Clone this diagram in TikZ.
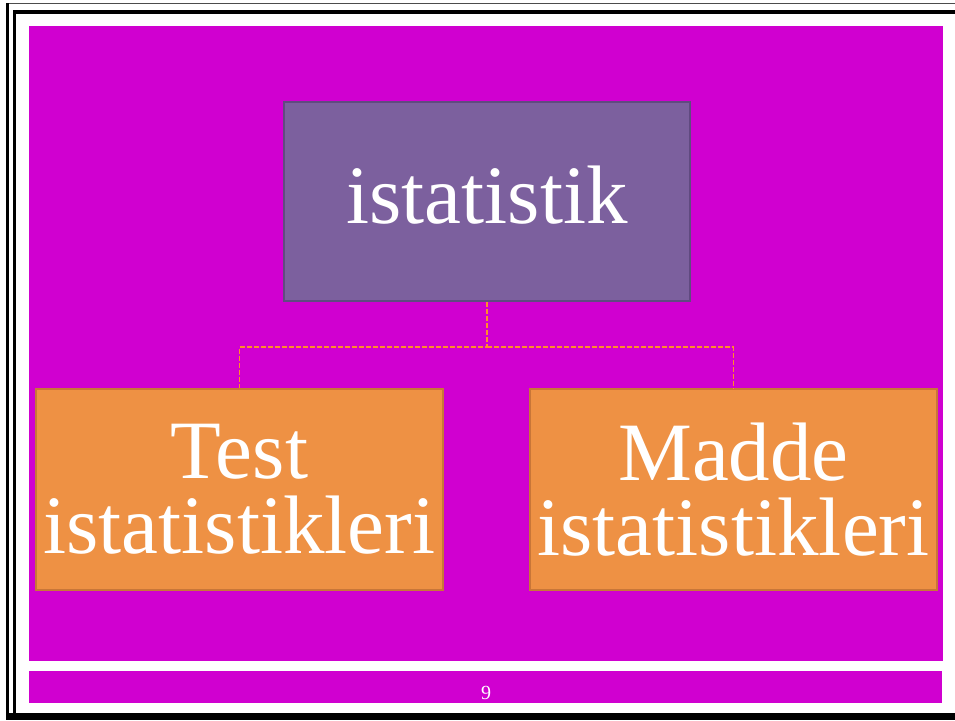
\documentclass[tikz,border=0pt]{standalone}
\usepackage{fontspec}
\setmainfont{Liberation Serif}
\definecolor{slidebg}{RGB}{208,0,208}
\definecolor{purplefill}{RGB}{124,96,158}
\definecolor{purpleedge}{RGB}{96,74,128}
\definecolor{orangefill}{RGB}{238,145,68}
\definecolor{orangeedge}{RGB}{200,118,56}
\definecolor{linkcol}{RGB}{255,140,40}
\tikzset{
  topbox/.style={draw=purpleedge, line width=2pt, fill=purplefill, minimum width=406pt, minimum height=199pt, inner sep=0pt, text=white, font=\fontsize{83}{75}\selectfont, text depth=14pt},
  childbox/.style={draw=orangeedge, line width=2pt, fill=orangefill, minimum width=407pt, minimum height=201pt, inner sep=0pt, text=white, align=center, font=\fontsize{83}{75}\selectfont},
  link/.style={draw=linkcol, line width=1.3pt, dash pattern=on 5pt off 2pt},
  frameline/.style={draw=black},
}
\begin{document}
\begin{tikzpicture}[x=1pt,y=-1pt]
\useasboundingbox (0,0) rectangle (955,720);
\fill[white] (0,0) rectangle (955,720);
% frame lines
\draw[frameline, line width=1.5pt, draw=black!70] (6,3.5) -- (955,3.5);
\draw[frameline, line width=3pt] (7.5,3) -- (7.5,720);
\draw[frameline, line width=4pt] (13,12) -- (955,12);
\draw[frameline, line width=3pt] (14.5,10) -- (14.5,716);
\draw[frameline, line width=7pt] (6,716.5) -- (955,716.5);
% slide areas
\fill[slidebg] (29,26) rectangle (943,661);
\node[fill=slidebg, minimum width=913pt, minimum height=32pt, inner sep=0pt, anchor=north west] (footer) at (29,671) {};
\node[text=white, font=\fontsize{20}{24}\selectfont, anchor=base] (pagenum) at (486,699) {9};
% diagram
\node[topbox] (top) at (487,201.5) {istatistik};
\node[childbox] (test) at (239.5,489.5) {Test\\istatistikleri};
\node[childbox] (madde) at (733.5,489.5) {Madde\\istatistikleri};
\coordinate (split) at (487,347);
\draw[link] (top.south) -- (split) -| (test.north);
\draw[link] (split) -| (madde.north);
\end{tikzpicture}
\end{document}
